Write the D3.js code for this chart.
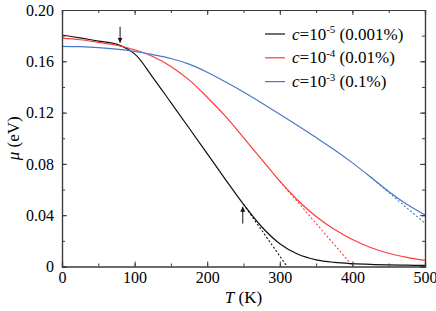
<!DOCTYPE html>
<html>
<head>
<meta charset="utf-8">
<script src="https://cdn.jsdelivr.net/npm/d3@7"></script>
<style>
  body { margin: 0; background: #fff; }
</style>
</head>
<body>
<div id="chart"></div>
<script>
'use strict'

var SERIF = "'Liberation Serif', 'Times New Roman', Times, serif";

// temperature grid (K)
var temps = [0, 25, 50, 75, 100, 125, 150, 175, 200, 225, 250, 275, 300, 325, 350, 375, 400, 425, 450, 475, 500];

// chemical potential (eV) for each concentration
var muC5 = [0.1805, 0.1782, 0.1758, 0.1734, 0.1658, 0.1475, 0.1278, 0.1080, 0.0880, 0.0680, 0.0485, 0.0310, 0.0178, 0.0095, 0.0052, 0.0032, 0.0022, 0.0016, 0.0012, 0.0010, 0.0008];
var muC4 = [0.1780, 0.1768, 0.1748, 0.1725, 0.1690, 0.1638, 0.1560, 0.1455, 0.1320, 0.1172, 0.1005, 0.0835, 0.0665, 0.0515, 0.0390, 0.0290, 0.0210, 0.0148, 0.0103, 0.0071, 0.0047];
var muC3 = [0.1717, 0.1714, 0.1707, 0.1695, 0.1677, 0.1652, 0.1622, 0.1578, 0.1515, 0.1440, 0.1360, 0.1275, 0.1187, 0.1097, 0.1005, 0.0910, 0.0808, 0.0698, 0.0585, 0.0485, 0.0402];

// linear extrapolations (dashed), [T, mu] end points
var tanC5 = [[250, 0.0485], [310, 0]];
var tanC4 = [[300, 0.0665], [401, 0]];
var tanC3 = [[425, 0.0698], [500, 0.0337]];

var exponents = ['-5', '-4', '-3'];
var percents = [' (0.001%)', ' (0.01%)', ' (0.1%)'];
var colors = ['#111111', '#ff3a3a', '#4a78c8'];

var xTicks = [0, 100, 200, 300, 400, 500];
var yTicks = [0, 0.04, 0.08, 0.12, 0.16, 0.20];
var yTickLabels = ['0', '0.04', '0.08', '0.12', '0.16', '0.20'];

// arrows marking the kinks: [T, mu start, mu tip]
var arrows = [[80, 0.1870, 0.1745], [249, 0.0335, 0.0466]];

var WIDTH = 436, HEIGHT = 311;
var LEFT = 62, RIGHT = 425, TOP = 10, BOTTOM = 266.5;
var FRAME = '#3a3a3a';

var svg = d3.select('#chart').append('svg').attr('width', WIDTH).attr('height', HEIGHT);

var x = d3.scaleLinear().domain([0, 500]).range([LEFT, RIGHT]);
var y = d3.scaleLinear().domain([0, 0.2]).range([BOTTOM, TOP]);

var defs = svg.append('defs');
defs.append('clipPath').attr('id', 'plot-clip')
  .append('rect').attr('x', LEFT).attr('y', TOP).attr('width', RIGHT - LEFT).attr('height', BOTTOM - TOP);

var plot = svg.append('g').attr('clip-path', 'url(#plot-clip)');

var line = d3.line()
  .x(function (d) { return x(d[0]); })
  .y(function (d) { return y(d[1]); })
  .curve(d3.curveCatmullRom.alpha(0.5));

var allMu = [muC5, muC4, muC3];
var tangents = [tanC5, tanC4, tanC3];

// dashed tangents first so the solid curves sit on top
tangents.forEach(function (tan, i) {
  plot.append('path')
    .attr('d', d3.line().x(function (d) { return x(d[0]); }).y(function (d) { return y(d[1]); })(tan))
    .attr('fill', 'none')
    .attr('stroke', colors[i])
    .attr('stroke-width', 1.1)
    .attr('stroke-dasharray', '2,2');
});

allMu.forEach(function (mu, i) {
  var pts = temps.map(function (t, k) { return [t, mu[k]]; });
  plot.append('path')
    .attr('d', line(pts))
    .attr('fill', 'none')
    .attr('stroke', colors[i])
    .attr('stroke-width', 1.2);
});

// axes: inward ticks on all four sides
var xMinor = d3.range(0, 501, 50);
var yMinor = d3.range(0, 0.2001, 0.02);

svg.append('g').attr('transform', 'translate(0,' + BOTTOM + ')')
  .call(d3.axisBottom(x).tickValues(xMinor).tickSize(-3).tickFormat(''));
svg.append('g').attr('transform', 'translate(0,' + BOTTOM + ')')
  .call(d3.axisBottom(x).tickValues(xTicks).tickSize(-5).tickPadding(5).tickFormat(d3.format('d')));
svg.append('g').attr('transform', 'translate(0,' + TOP + ')')
  .call(d3.axisTop(x).tickValues(xMinor).tickSize(-3).tickFormat(''));
svg.append('g').attr('transform', 'translate(0,' + TOP + ')')
  .call(d3.axisTop(x).tickValues(xTicks).tickSize(-5).tickFormat(''));

svg.append('g').attr('transform', 'translate(' + LEFT + ',0)')
  .call(d3.axisLeft(y).tickValues(yMinor).tickSize(-3).tickFormat(''));
svg.append('g').attr('transform', 'translate(' + LEFT + ',0)')
  .call(d3.axisLeft(y).tickValues(yTicks).tickSize(-5).tickPadding(8)
    .tickFormat(function (d, i) { return yTickLabels[i]; }));
svg.append('g').attr('transform', 'translate(' + RIGHT + ',0)')
  .call(d3.axisRight(y).tickValues(yMinor).tickSize(-3).tickFormat(''));
svg.append('g').attr('transform', 'translate(' + RIGHT + ',0)')
  .call(d3.axisRight(y).tickValues(yTicks).tickSize(-5).tickFormat(''));

svg.selectAll('g').attr('font-family', SERIF);
svg.selectAll('.domain').attr('stroke', FRAME).attr('stroke-width', 1.2);
svg.selectAll('.tick line').attr('stroke', FRAME);
svg.selectAll('.tick text')
  .style('font-family', SERIF)
  .style('font-size', '16px')
  .attr('fill', '#000');

// axis titles
var xTitle = svg.append('text')
  .attr('x', (LEFT + RIGHT) / 2)
  .attr('y', 303)
  .attr('text-anchor', 'middle')
  .style('font-family', SERIF)
  .style('font-size', '17px');
xTitle.append('tspan').attr('font-style', 'italic').text('T');
xTitle.append('tspan').text(' (K)');

var yTitle = svg.append('text')
  .attr('transform', 'translate(19,' + ((TOP + BOTTOM) / 2) + ') rotate(-90)')
  .attr('text-anchor', 'middle')
  .style('font-family', SERIF)
  .style('font-size', '17px');
yTitle.append('tspan').attr('font-style', 'italic').text('\u03bc');
yTitle.append('tspan').text(' (eV)');

// arrows
defs.append('marker')
  .attr('id', 'head')
  .attr('viewBox', '0 -5 10 10')
  .attr('refX', 10).attr('refY', 0)
  .attr('markerWidth', 5).attr('markerHeight', 6)
  .attr('markerUnits', 'userSpaceOnUse')
  .attr('orient', 'auto')
  .append('path').attr('d', 'M0,-5L10,0L0,5Z').attr('fill', '#111');

arrows.forEach(function (a) {
  svg.append('line')
    .attr('x1', x(a[0])).attr('y1', y(a[1]))
    .attr('x2', x(a[0])).attr('y2', y(a[2]))
    .attr('stroke', '#111')
    .attr('stroke-width', 1)
    .attr('marker-end', 'url(#head)');
});

// legend
var LEG_X = 265, LEG_Y = 34, LEG_STEP = 23.8;
exponents.forEach(function (ex, i) {
  var ly = LEG_Y + i * LEG_STEP;
  svg.append('line')
    .attr('x1', LEG_X).attr('x2', LEG_X + 20)
    .attr('y1', ly).attr('y2', ly)
    .attr('stroke', colors[i]).attr('stroke-width', 1.2);
  var t = svg.append('text')
    .attr('x', LEG_X + 27)
    .attr('y', ly + 5.5)
    .style('font-family', SERIF)
    .style('font-size', '17px');
  t.append('tspan').attr('font-style', 'italic').text('c');
  t.append('tspan').text('=10');
  t.append('tspan').style('font-size', '11px').attr('dy', -6.5).text(ex);
  t.append('tspan').attr('dy', 6.5).text(percents[i]);
});
</script>
</body>
</html>
